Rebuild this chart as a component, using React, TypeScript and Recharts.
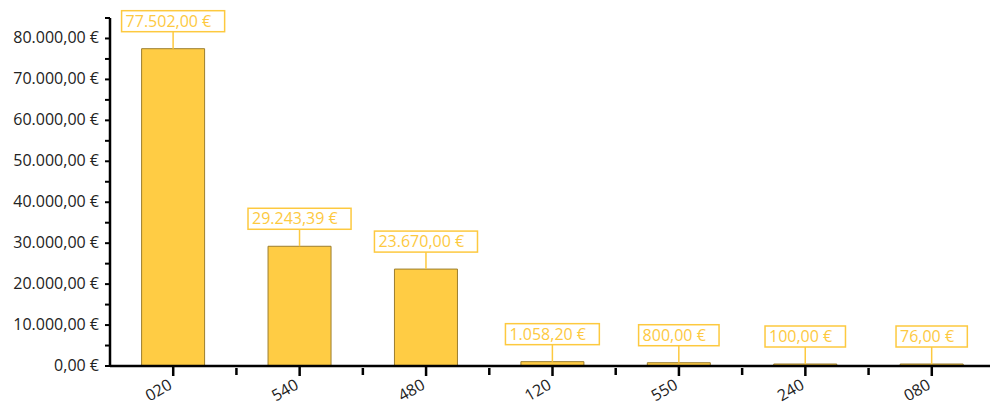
import React from "react";
import { BarChart, Bar, XAxis, YAxis, LabelList } from "recharts";

const codes = ["020", "540", "480", "120", "550", "240", "080"];
const amounts = [77502, 29243.39, 23670, 1058.2, 800, 100, 76];
const yTicks = [0, 5000, 10000, 15000, 20000, 25000, 30000, 35000, 40000, 45000, 50000, 55000, 60000, 65000, 70000, 75000, 80000, 85000];

const FONT = "'Open Sans', 'Noto Sans', sans-serif";
const GOLD = "#FFCC44";
const LABEL = "#FDC93F";

function euro(v: number) {
  const [int, dec] = v.toFixed(2).split(".");
  const grouped = int.replace(/\B(?=(\d{3})+(?!\d))/g, ".");
  return `${grouped},${dec} €`;
}

// rough width of Open Sans at 16px
function textWidth(s: string) {
  let w = 0;
  for (const c of s) {
    if (/\d/.test(c)) w += 9.15;
    else if (c === "." || c === ",") w += 4.3;
    else if (c === " ") w += 4.2;
    else w += 9.2;
  }
  return w;
}

const data = codes.map((c, i) => ({ code: c, amount: amounts[i] }));

function YTick(props: any) {
  const { x, y, payload } = props;
  if (payload.value % 10000 !== 0) return <g />;
  return (
    <text x={x - 4} y={y} dy={5} textAnchor="end" fill="#222" fontSize={16} fontFamily={FONT}>
      {euro(payload.value)}
    </text>
  );
}

function XTick(props: any) {
  const { x, y, payload, index } = props;
  // boundary tick between categories, half a band to the right
  const half = payload.offset || 0;
  const axisY = y - 10;
  return (
    <g>
      {index < codes.length - 1 && half > 0 && (
        <line x1={x + half} y1={axisY} x2={x + half} y2={axisY + 7} stroke="#000" strokeWidth={2.5} />
      )}
      <text
        x={x}
        y={y + 10}
        textAnchor="end"
        fill="#222"
        fontSize={16}
        fontFamily={FONT}
        transform={`rotate(-30 ${x} ${y + 10})`}
      >
        {payload.value}
      </text>
    </g>
  );
}

function ValueLabel(props: any) {
  const { x, y, width, value } = props;
  const cx = x + width / 2;
  const txt = euro(value);
  const w = textWidth(txt) + 17;
  const boxBottom = y - 17;
  const boxTop = boxBottom - 21;
  return (
    <g>
      <line x1={cx} y1={boxBottom} x2={cx} y2={y} stroke={LABEL} strokeWidth={1.5} />
      <rect x={cx - w / 2} y={boxTop} width={w} height={21} fill="#fff" stroke={LABEL} strokeWidth={1.5} />
      <text x={cx - w / 2 + 4} y={boxBottom - 5} fill={LABEL} fontSize={16} fontFamily={FONT}>
        {txt}
      </text>
    </g>
  );
}

export default function App() {
  return (
    <div style={{ position: "absolute", left: 0, top: 0, width: 990, height: 405, overflow: "hidden", background: "#fff" }}>
      <BarChart
        width={1000}
        height={405}
        data={data}
        margin={{ top: 18, right: 5, bottom: 0, left: 0 }}
        barCategoryGap="25%"
      >
        <XAxis
          dataKey="code"
          height={39}
          axisLine={{ stroke: "#000", strokeWidth: 2.5 }}
          tickLine={{ stroke: "#000", strokeWidth: 2.5 }}
          tickSize={10}
          tick={<XTick />}
          interval={0}
        />
        <YAxis
          width={110}
          domain={[0, 85000]}
          ticks={yTicks}
          interval={0}
          axisLine={{ stroke: "#000", strokeWidth: 2.5 }}
          tickLine={{ stroke: "#000", strokeWidth: 2 }}
          tickSize={5}
          tick={<YTick />}
        />
        <Bar
          dataKey="amount"
          fill={GOLD}
          stroke="#9C7E2E"
          strokeWidth={1}
          minPointSize={2}
          isAnimationActive={false}
        >
          <LabelList dataKey="amount" content={<ValueLabel />} />
        </Bar>
      </BarChart>
    </div>
  );
}
